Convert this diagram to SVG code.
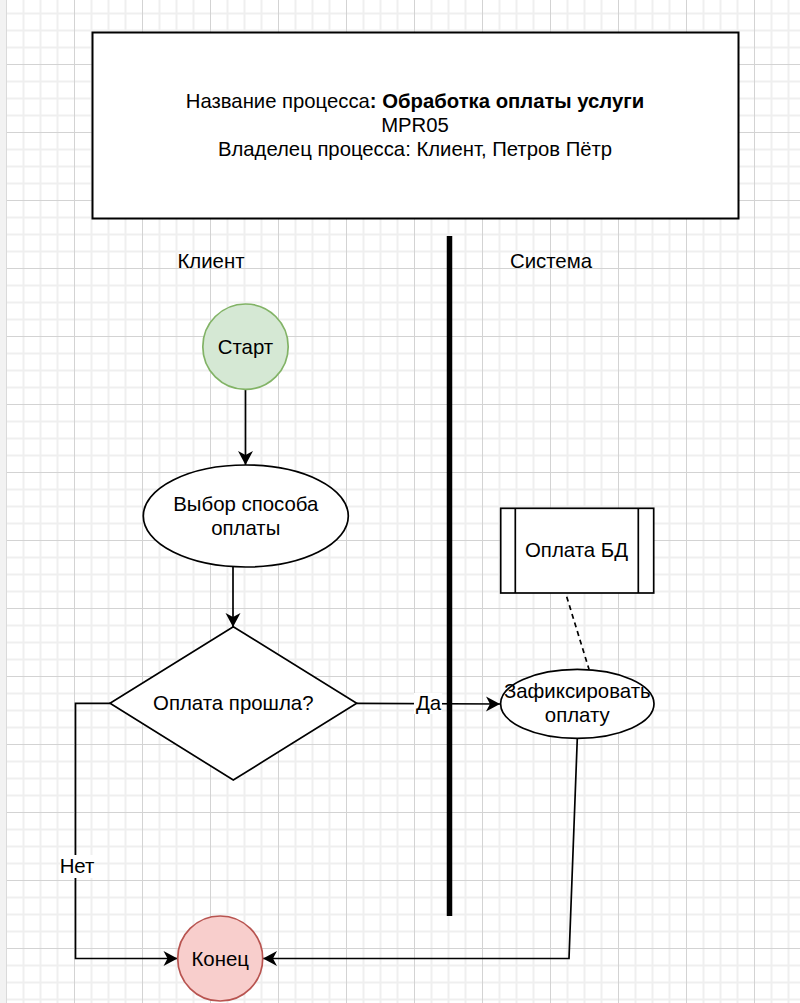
<svg xmlns="http://www.w3.org/2000/svg" width="800" height="1003" viewBox="0 0 800 1003">
  <style>
    text { font-family: "Liberation Sans", Arial, sans-serif; fill: #000; }
    .lbl { font-size: 20.4px; text-anchor: middle; }
    .title { font-size: 20.3px; text-anchor: middle; }
    .shape { fill: #fff; stroke: #000; stroke-width: 1.7; }
    .edge { fill: none; stroke: #000; stroke-width: 1.7; }
  </style>
  <defs>
    <pattern id="grid" patternUnits="userSpaceOnUse" x="-2" y="56" width="68" height="68">
      <g stroke="#efefef" stroke-width="2">
        <line x1="25.5" y1="0" x2="25.5" y2="68"/>
        <line x1="42.5" y1="0" x2="42.5" y2="68"/>
        <line x1="59.5" y1="0" x2="59.5" y2="68"/>
        <line x1="0" y1="25.5" x2="68" y2="25.5"/>
        <line x1="0" y1="42.5" x2="68" y2="42.5"/>
        <line x1="0" y1="59.5" x2="68" y2="59.5"/>
      </g>
      <g stroke="#d3d3d3" stroke-width="1">
        <line x1="8.5" y1="0" x2="8.5" y2="68"/>
        <line x1="0" y1="8.5" x2="68" y2="8.5"/>
      </g>
    </pattern>
    <marker id="arrow" markerUnits="userSpaceOnUse" markerWidth="16" markerHeight="16" viewBox="-15 -8 16 16" refX="0" refY="0" orient="auto">
      <path d="M0,0 L-14,-7.5 L-10,0 L-14,7.5 Z" fill="#000"/>
    </marker>
  </defs>

  <!-- canvas background with grid -->
  <rect x="0" y="0" width="800" height="1003" fill="#fff"/>
  <rect x="7" y="0" width="793" height="1003" fill="url(#grid)"/>
  <rect x="0" y="0" width="6" height="1003" fill="#f2f2f2"/>
  <line x1="6.5" y1="0" x2="6.5" y2="1003" stroke="#dadada" stroke-width="1"/>

  <!-- process header -->
  <g id="header">
    <rect x="92.5" y="32.5" width="646" height="186" fill="#fff" stroke="#000" stroke-width="2"/>
    <text class="title" x="415" y="108">Название процесса<tspan font-weight="bold">: Обработка оплаты услуги</tspan></text>
    <text class="title" x="415" y="132">MPR05</text>
    <text class="title" x="415" y="156">Владелец процесса: Клиент, Петров Пётр</text>
  </g>

  <!-- lane separator and lane titles -->
  <g id="lanes">
    <line x1="449.5" y1="236" x2="449.5" y2="916" stroke="#000" stroke-width="5.5"/>
    <text class="lbl" x="211" y="268">Клиент</text>
    <text class="lbl" x="551" y="268">Система</text>
  </g>

  <!-- connectors -->
  <g id="connectors">
    <line class="edge" x1="245.5" y1="389.5" x2="245.5" y2="465" marker-end="url(#arrow)"/>
    <line class="edge" x1="233" y1="565" x2="233" y2="627" marker-end="url(#arrow)"/>
    <polyline class="edge" points="356.7,703.3 500,704" marker-end="url(#arrow)"/>
    <polyline class="edge" points="110,703.3 75.5,703.3 75.5,958.5 177.5,958.5" marker-end="url(#arrow)"/>
    <polyline class="edge" points="577.3,738.3 569,958.5 263,958.5" marker-end="url(#arrow)"/>
    <line x1="566.7" y1="596.7" x2="589" y2="669.3" stroke="#000" stroke-width="1.7" stroke-dasharray="5 4"/>
    <!-- edge labels -->
    <rect x="414" y="693" width="28" height="21" fill="#fff"/>
    <text class="lbl" x="428.5" y="710">Да</text>
    <rect x="60" y="855" width="33" height="23" fill="#fff"/>
    <text class="lbl" x="77" y="873">Нет</text>
  </g>

  <!-- nodes -->
  <g id="start">
    <circle cx="245.5" cy="346.7" r="42.7" fill="#d5e8d4" stroke="#82b366" stroke-width="1.7"/>
    <text class="lbl" x="245.5" y="354">Старт</text>
  </g>

  <g id="choose-method">
    <ellipse class="shape" cx="245.8" cy="516" rx="102.5" ry="51"/>
    <text class="lbl" x="245.8" y="510.5">Выбор способа</text>
    <text class="lbl" x="245.8" y="534.5">оплаты</text>
  </g>

  <g id="payment-ok">
    <polygon class="shape" points="233.3,626.7 356.7,703.3 233.3,780 110,703.3"/>
    <text class="lbl" x="233.3" y="710">Оплата прошла?</text>
  </g>

  <g id="payment-db">
    <rect class="shape" x="500.7" y="508.3" width="153" height="84.7"/>
    <line x1="515.3" y1="508.3" x2="515.3" y2="593" stroke="#000" stroke-width="1.7"/>
    <line x1="638.3" y1="508.3" x2="638.3" y2="593" stroke="#000" stroke-width="1.7"/>
    <text class="lbl" x="576.5" y="557">Оплата БД</text>
  </g>

  <g id="record-payment">
    <ellipse class="shape" cx="577.3" cy="703.8" rx="76.7" ry="34.5"/>
    <text class="lbl" x="577.3" y="698">Зафиксировать</text>
    <text class="lbl" x="577.3" y="722">оплату</text>
  </g>

  <g id="end">
    <circle cx="220.2" cy="958.5" r="42.5" fill="#f8cecc" stroke="#b85450" stroke-width="1.7"/>
    <text class="lbl" x="220.2" y="965.5">Конец</text>
  </g>
</svg>
